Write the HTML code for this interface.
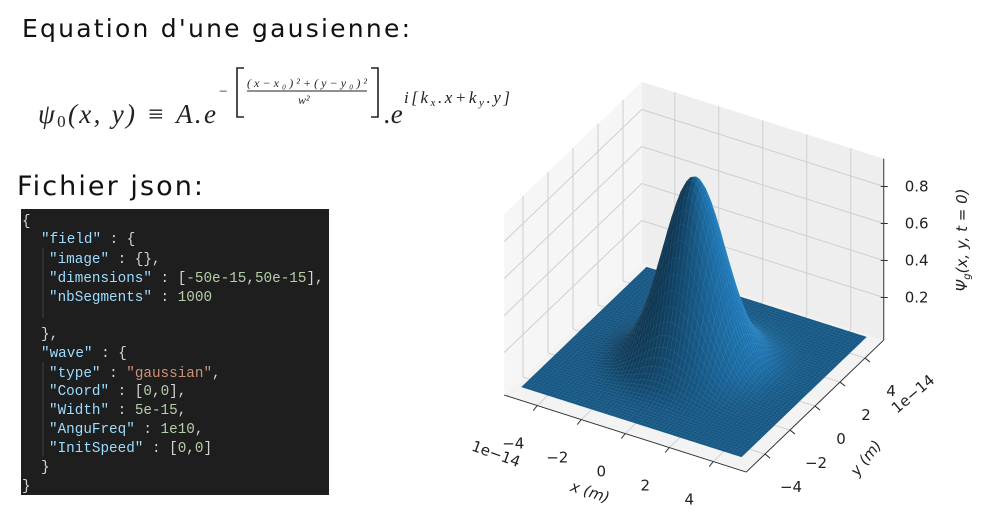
<!DOCTYPE html>
<html><head><meta charset="utf-8"><style>
html,body{margin:0;padding:0;background:#fff;width:997px;height:515px;overflow:hidden}
svg{display:block}
.code{font-family:"Liberation Mono","DejaVu Sans Mono",monospace;font-size:14.3px}
.tk{font-family:"DejaVu Sans","Liberation Sans",sans-serif;font-size:15px;fill:#222}
</style></head><body>
<svg id="page" width="997" height="515" viewBox="0 0 997 515" xmlns="http://www.w3.org/2000/svg">
<text x="22" y="37" font-family="DejaVu Sans, Liberation Sans, sans-serif" font-size="25" textLength="388" fill="#111">Equation d'une gausienne:</text>
<g font-family="Liberation Serif, DejaVu Serif, serif" fill="#222">
 <text x="38" y="123" font-size="27" font-style="italic" textLength="178">ψ<tspan font-size="17" font-style="normal" dy="4">0</tspan><tspan dy="-4">(x, y) ≡ A.e</tspan></text>
 <text x="219" y="96" font-size="15">−</text>
 <path d="M244,68 H237 V117 H244" fill="none" stroke="#222" stroke-width="1.6"/>
 <text x="247" y="87" font-size="12" font-style="italic" textLength="120">(x−x₀)²+(y−y₀)²</text>
 <line x1="247" y1="91" x2="367" y2="91" stroke="#222" stroke-width="1"/>
 <text x="298" y="104" font-size="12" font-style="italic">w²</text>
 <path d="M371,68 H378 V117 H371" fill="none" stroke="#222" stroke-width="1.6"/>
 <text x="384" y="123" font-size="27" font-style="italic">.e</text>
 <text x="404" y="103" font-size="17" font-style="italic" textLength="106">i[k<tspan font-size="11" dy="3">x</tspan><tspan dy="-3">.x+k</tspan><tspan font-size="11" dy="3">y</tspan><tspan dy="-3">.y]</tspan></text>
</g>
<text x="17" y="195" font-family="DejaVu Sans, Liberation Sans, sans-serif" font-size="27" textLength="186" fill="#111">Fichier json:</text>
<g>
 <rect x="21" y="209" width="308" height="286" fill="#1e1e1e"/>
 <line x1="43" y1="248" x2="43" y2="318" stroke="#404040" stroke-width="1"/>
 <line x1="43" y1="362" x2="43" y2="456" stroke="#404040" stroke-width="1"/>
 <g class="code" fill="#d4d4d4">
  <text x="22" y="225">{</text>
  <text x="41" y="243"><tspan fill="#9cdcfe">"field"</tspan> : {</text>
  <text x="49" y="263"><tspan fill="#9cdcfe">"image"</tspan> : {},</text>
  <text x="49" y="282"><tspan fill="#9cdcfe">"dimensions"</tspan> : [<tspan fill="#b5cea8">-50e-15</tspan>,<tspan fill="#b5cea8">50e-15</tspan>],</text>
  <text x="49" y="301"><tspan fill="#9cdcfe">"nbSegments"</tspan> : <tspan fill="#b5cea8">1000</tspan></text>
  <text x="41" y="338">},</text>
  <text x="41" y="357"><tspan fill="#9cdcfe">"wave"</tspan> : {</text>
  <text x="49" y="377"><tspan fill="#9cdcfe">"type"</tspan> : <tspan fill="#ce9178">"gaussian"</tspan>,</text>
  <text x="49" y="395"><tspan fill="#9cdcfe">"Coord"</tspan> : [<tspan fill="#b5cea8">0</tspan>,<tspan fill="#b5cea8">0</tspan>],</text>
  <text x="49" y="414"><tspan fill="#9cdcfe">"Width"</tspan>  : <tspan fill="#b5cea8">5e-15</tspan>,</text>
  <text x="49" y="433"><tspan fill="#9cdcfe">"AnguFreq"</tspan> : <tspan fill="#b5cea8">1e10</tspan>,</text>
  <text x="49" y="452"><tspan fill="#9cdcfe">"InitSpeed"</tspan> : [<tspan fill="#b5cea8">0</tspan>,<tspan fill="#b5cea8">0</tspan>]</text>
  <text x="41" y="471">}</text>
  <text x="22" y="490">}</text>
 </g>
</g>
<g id="plot"></g>
</svg>
<script>
const xTicks=[-4,-2,0,2,4];
const yTicks=[-4,-2,0,2,4];
const zTicks=[0.2,0.4,0.6,0.8];
const zTickLabels=["0.2","0.4","0.6","0.8"];
const amplitude=[1.0];
const gaussWidth=[1.75];
const gridRange=[-5,5];

const NS="http://www.w3.org/2000/svg";
const plot=document.getElementById('plot');
const O=[694,362],EX=[22,7],EY=[12.5,-12],EZ=-185;
const B=5.5,Z0=-0.03,Z1=0.95;
function P(x,y,z){return [O[0]+x*EX[0]+y*EY[0],O[1]+x*EX[1]+y*EY[1]+z*EZ];}
function pts(a){return a.map(p=>p[0].toFixed(1)+','+p[1].toFixed(1)).join(' ');}
function mk(tag,attrs,parent){const e=document.createElementNS(NS,tag);for(const k in attrs)e.setAttribute(k,attrs[k]);(parent||plot).appendChild(e);return e;}
function line(a,b,col,w,name){const e=mk('line',{x1:a[0],y1:a[1],x2:b[0],y2:b[1],stroke:col,'stroke-width':w});

return e;}

let pn=mk('polygon',{points:pts([P(-B,-B,Z0),P(B,-B,Z0),P(B,B,Z0),P(-B,B,Z0)]),fill:'#f3f3f3'});


pn=mk('polygon',{points:pts([P(-B,-B,Z0),P(-B,B,Z0),P(-B,B,Z1),P(-B,-B,Z1)]),fill:'#f6f6f6'});


pn=mk('polygon',{points:pts([P(-B,B,Z0),P(B,B,Z0),P(B,B,Z1),P(-B,B,Z1)]),fill:'#eeeeee'});


const GC='#cfcfcf';
yTicks.forEach(t=>{line(P(-B,t,Z0),P(-B,t,Z1),GC,1,'left-pane-gridline');line(P(-B,t,Z0),P(B,t,Z0),GC,1,'floor-gridline');});
xTicks.forEach(t=>{line(P(t,B,Z0),P(t,B,Z1),GC,1,'back-pane-gridline');line(P(t,-B,Z0),P(t,B,Z0),GC,1,'floor-gridline');});
zTicks.forEach(t=>{line(P(-B,-B,t),P(-B,B,t),GC,1,'left-pane-gridline');line(P(-B,B,t),P(B,B,t),GC,1,'back-pane-gridline');});

const A=amplitude[0],W=gaussWidth[0];
function f(x,y){return A*Math.exp(-(x*x+y*y)/(W*W));}
const N=60,g0=gridRange[0],g1=gridRange[1],d=(g1-g0)/N;
const quads=[];
for(let i=0;i<N;i++)for(let j=0;j<N;j++){
 const x=g0+i*d,y=g0+j*d,xc=x+d/2,yc=y+d/2;
 quads.push([x,y,xc-yc]);
}
quads.sort((a,b)=>a[2]-b[2]);
const surf=mk('g',{});


quads.forEach(q=>{
 const x=q[0],y=q[1],xc=x+d/2,yc=y+d/2,fc=f(xc,yc);
 const fx=-2*xc/(W*W)*fc,fy=-2*yc/(W*W)*fc,S=8;
 let nx=-fx*S,ny=-fy*S,nz=1;const L=Math.hypot(nx,ny,nz);nx/=L;ny/=L;
 let s=0.72+0.3*((22*nx+12.5*ny)/25.3);
 s=Math.max(0.4,Math.min(1.0,s));
 const c='rgb('+Math.round(31*s)+','+Math.round(119*s)+','+Math.round(180*s)+')';
 const cs='rgb('+Math.round(31*s+22)+','+Math.round(119*s+22)+','+Math.round(180*s+22)+')';
 const p=mk('polygon',{points:pts([P(x,y,f(x,y)),P(x+d,y,f(x+d,y)),P(x+d,y+d,f(x+d,y+d)),P(x,y+d,f(x,y+d))]),fill:c,stroke:cs,'stroke-width':0.35},surf);
 
 
});

const AC='#333';
line(P(-B,-B,Z0),P(B,-B,Z0),AC,1,'x-axis-line');
line(P(B,-B,Z0),P(B,B,Z0),AC,1,'y-axis-line');
line(P(B,B,Z0),P(B,B,Z1),AC,1,'z-axis-line');
function txt(s,x,y,name,extra){const e=mk('text',Object.assign({x:x,y:y,class:'tk','text-anchor':'middle'},extra||{}));e.textContent=s;

return e;}
function lab(t){return t<0?'−'+Math.abs(t):String(t);}
xTicks.forEach(t=>{const a=P(t,-B,Z0);line(a,[a[0]-4,a[1]+5],AC,1,'x-tick');txt(lab(t),a[0]-24,a[1]+43,'x-tick-label');});
yTicks.forEach(t=>{const a=P(B,t,Z0);line(a,[a[0]+5,a[1]+4],AC,1,'y-tick');txt(lab(t),a[0]+26,a[1]+38,'y-tick-label');});
zTicks.forEach((t,k)=>{const a=P(B,B,t);line([a[0]-3,a[1]],[a[0]+4,a[1]],AC,1,'z-tick');txt(zTickLabels[k],a[0]+21,a[1]+5,'z-tick-label',{'text-anchor':'start'});});
txt('1e−14',496,459,'x-offset-label',{transform:'rotate(20 496 454)'});
txt('1e−14',913,399,'y-offset-label',{transform:'rotate(-40 913 394)'});
txt('x (m)',590,497,'x-axis-title',{transform:'rotate(18 590 492)','font-style':'italic'});
txt('y (m)',866,463,'y-axis-title',{transform:'rotate(-52 866 458)','font-style':'italic'});
const zl=txt('',962,245,'z-axis-title',{transform:'rotate(-90 962 240)','font-style':'italic'});
zl.innerHTML='Ψ<tspan font-size="10" dy="3">g</tspan><tspan dy="-3">(x, y, t = 0)</tspan>';
</script>
</body></html>
